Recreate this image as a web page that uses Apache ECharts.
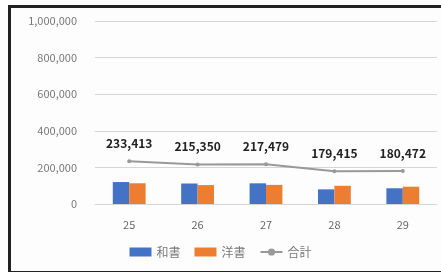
<!DOCTYPE html>
<html lang="ja">
<head>
<meta charset="UTF-8">
<title>chart</title>
<script src="https://cdn.jsdelivr.net/npm/echarts@6/dist/echarts.min.js"></script>
<style>
  html, body { margin: 0; padding: 0; background: #fff; }
  #frame {
    position: absolute; left: 8px; top: 5px; width: 440px; height: 263px;
    border-left: 3px solid #222; border-top: 3px solid #222; border-bottom: 3px solid #222;
    background: #fdfdfd;
  }
  #main { position: absolute; left: 0; top: 0; width: 441px; height: 272px; }
</style>
</head>
<body>
<div id="frame"></div>
<div id="main"></div>
<script>
// 回次
var categories = ['25', '26', '27', '28', '29'];
// 和書・洋書・合計
var washo = [120000, 112000, 113000, 80000, 86000];
var yosho = [113413, 103350, 104479, 99415, 94472];
var total = [233413, 215350, 217479, 179415, 180472];
var yTicks = [0, 200000, 400000, 600000, 800000, 1000000];

var myChart = echarts.init(document.getElementById('main'));
var font = '"Noto Sans CJK JP", "Noto Sans", sans-serif';

var option = {
    backgroundColor: 'transparent',
    animation: false,
    textStyle: { fontFamily: font },
    grid: { left: 95, right: 4, top: 21, bottom: 68 },
    legend: {
        bottom: 9,
        left: 'center',
        itemWidth: 22,
        itemHeight: 9,
        itemGap: 14,
        textStyle: { fontSize: 12, color: '#777', fontFamily: font },
        data: [
            { name: '和書', icon: 'rect' },
            { name: '洋書', icon: 'rect' },
            { name: '合計' }
        ]
    },
    xAxis: {
        type: 'category',
        data: categories,
        axisLine: { show: false },
        axisTick: { show: false },
        axisLabel: { color: '#666', fontSize: 11, margin: 15 }
    },
    yAxis: {
        type: 'value',
        min: yTicks[0],
        max: yTicks[yTicks.length - 1],
        interval: 200000,
        axisLine: { show: false },
        axisTick: { show: false },
        splitLine: { lineStyle: { color: '#d6d6d6' } },
        axisLabel: {
            color: '#777', fontSize: 11, margin: 18,
            formatter: function (v) { return v.toLocaleString('en-US'); }
        }
    },
    series: [
        {
            name: '和書', type: 'bar', data: washo,
            barWidth: '24%', barGap: '0%',
            itemStyle: { color: '#4472C4' }
        },
        {
            name: '洋書', type: 'bar', data: yosho,
            barWidth: '24%', barGap: '0%',
            itemStyle: { color: '#ED7D31' }
        },
        {
            name: '合計', type: 'line', data: total,
            symbol: 'circle', symbolSize: 4,
            lineStyle: { color: '#999', width: 2 },
            itemStyle: { color: '#999' },
            label: {
                show: true, position: 'top', distance: 10,
                color: '#222', fontSize: 12, fontWeight: 'bold',
                formatter: function (p) { return p.value.toLocaleString('en-US'); }
            }
        }
    ]
};
myChart.setOption(option);
</script>
</body>
</html>
